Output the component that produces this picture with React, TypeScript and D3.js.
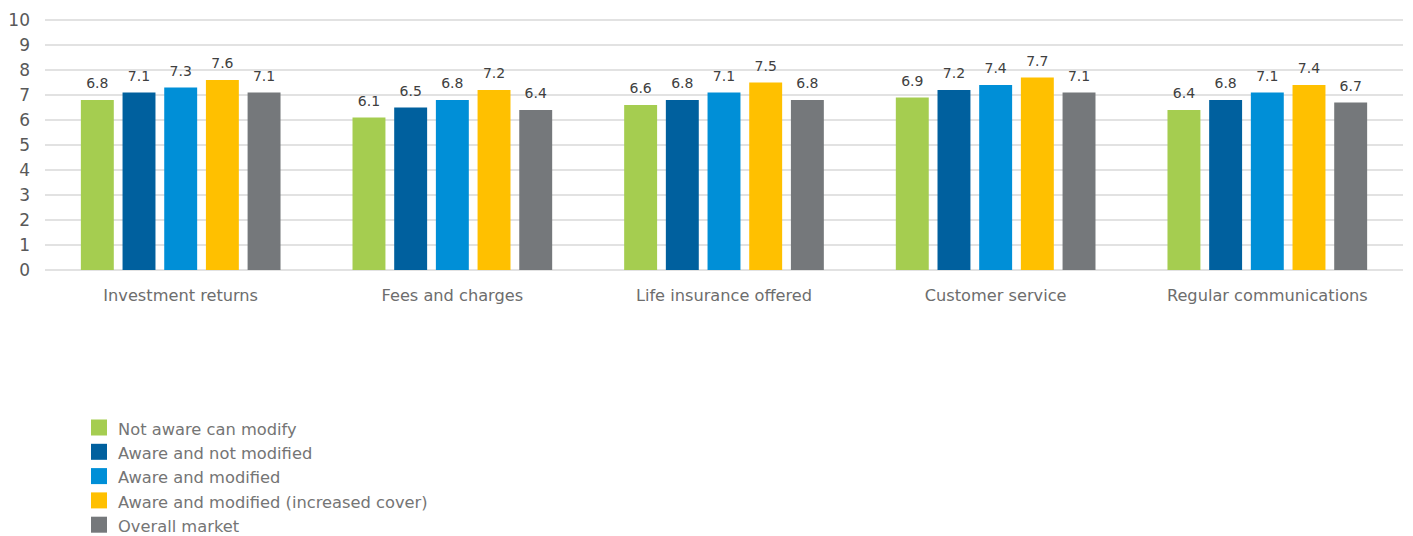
import React from 'react';
import * as d3 from 'd3';

const categories = ['Investment returns', 'Fees and charges', 'Life insurance offered', 'Customer service', 'Regular communications'];
const seriesNames = ['Not aware can modify', 'Aware and not modified', 'Aware and modified', 'Aware and modified (increased cover)', 'Overall market'];
const seriesColors = ['#A5CD50', '#00609E', '#008FD7', '#FFC000', '#75787B'];
const notAware = [6.8, 6.1, 6.6, 6.9, 6.4];
const awareNotModified = [7.1, 6.5, 6.8, 7.2, 6.8];
const awareModified = [7.3, 6.8, 7.1, 7.4, 7.1];
const awareIncreased = [7.6, 7.2, 7.5, 7.7, 7.4];
const overallMarket = [7.1, 6.4, 6.8, 7.1, 6.7];
const yTicks = [0, 1, 2, 3, 4, 5, 6, 7, 8, 9, 10];

const seriesValues = [notAware, awareNotModified, awareModified, awareIncreased, overallMarket];

function App() {
    const width = 1413;
    const height = 536;
    const margin = {top: 20, left: 45, right: 10, bottom: 266};
    const font = "'DejaVu Sans', sans-serif";

    const x0 = d3.scaleBand<string>()
        .domain(categories)
        .range([margin.left, width - margin.right])
        .paddingInner(0.265)
        .paddingOuter(0.132);
    const x1 = d3.scaleBand<number>()
        .domain(d3.range(seriesNames.length))
        .range([0, x0.bandwidth()])
        .paddingInner(0.21);
    const y = d3.scaleLinear()
        .domain([0, 10])
        .range([height - margin.bottom, margin.top]);

    return (
        <div style={{position: 'absolute', left: 0, top: 0}}>
            <svg width={width} height={height} style={{display: 'block'}}>
                <rect width={width} height={height} fill="#ffffff"/>
                <g>
                    {yTicks.map(t => (
                        <g key={t}>
                            <line x1={margin.left} x2={width - margin.right} y1={y(t)} y2={y(t)}
                                  stroke="#d9d9d9" strokeWidth={1.3}/>
                            <text x={30} y={y(t)} dy="0.36em" textAnchor="end" fontFamily={font}
                                  fontSize={17} fill="#595959">{t}</text>
                        </g>
                    ))}
                </g>
                {categories.map((c, ci) => (
                    <g key={c} transform={`translate(${x0(c)},0)`}>
                        {seriesValues.map((vals, si) => (
                            <g key={si}>
                                <rect x={x1(si)} y={y(vals[ci])} width={x1.bandwidth()}
                                      height={y(0) - y(vals[ci])} fill={seriesColors[si]}/>
                                <text x={(x1(si) ?? 0) + x1.bandwidth() / 2} y={y(vals[ci]) - 12}
                                      textAnchor="middle" fontFamily={font} fontSize={14}
                                      fill="#404040">{vals[ci].toFixed(1)}</text>
                            </g>
                        ))}
                        <text x={x0.bandwidth() / 2} y={y(0) + 31} textAnchor="middle" fontFamily={font}
                              fontSize={16.2} fill="#6d6d6d">{c}</text>
                    </g>
                ))}
                <g transform="translate(91,419.5)">
                    {seriesNames.map((s, i) => (
                        <g key={s} transform={`translate(0,${i * 24.3})`}>
                            <rect width={16} height={16} fill={seriesColors[i]}/>
                            <text x={27} y={9.5} dy="0.36em" fontFamily={font} fontSize={16.3}
                                  fill="#757575">{s}</text>
                        </g>
                    ))}
                </g>
            </svg>
        </div>
    );
}

export default App;
